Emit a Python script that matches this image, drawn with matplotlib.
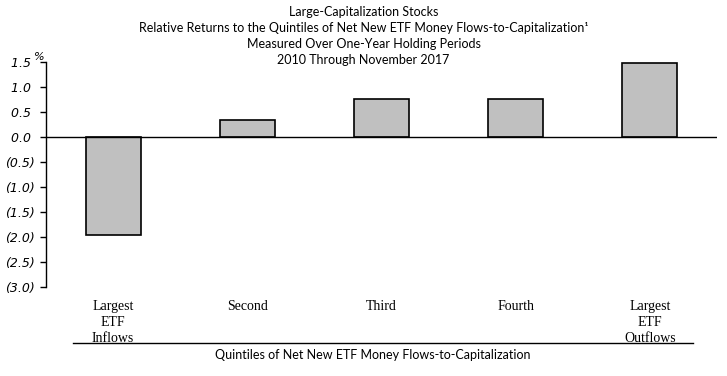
import matplotlib
matplotlib.use("Agg")
import matplotlib.pyplot as plt
from matplotlib.lines import Line2D

# quintile labels and relative returns (%)
categories = ["Largest\nETF\nInflows", "Second", "Third", "Fourth", "Largest\nETF\nOutflows"]
returns = [-1.95, 0.34, 0.76, 0.76, 1.48]

y_ticks = [1.5, 1.0, 0.5, 0.0, -0.5, -1.0, -1.5, -2.0, -2.5, -3.0]

title_lines = [
    "Large-Capitalization Stocks",
    "Relative Returns to the Quintiles of Net New ETF Money Flows-to-Capitalization\u00b9",
    "Measured Over One-Year Holding Periods",
    "2010 Through November 2017",
]
x_title = "Quintiles of Net New ETF Money Flows-to-Capitalization"


def fmt(v):
    # accounting style: negatives in parentheses
    if v < 0:
        return f"({abs(v):.1f})"
    return f"{v:.1f} "


fig = plt.figure(figsize=(7.27, 3.76), dpi=100)
ax = fig.add_axes([0.0633, 0.2367, 0.9229, 0.5984])

x = range(len(categories))
ax.bar(x, returns, width=0.41, color="#c0c0c0", edgecolor="black", linewidth=1.2, zorder=2)
ax.axhline(0, color="black", linewidth=1.0, zorder=3)

ax.set_xlim(-0.5, 4.5)
ax.set_ylim(-3.0, 1.5)

ax.set_yticks(y_ticks)
ax.set_yticklabels([fmt(v) for v in y_ticks], fontfamily="DejaVu Sans",
                   fontstyle="italic", fontsize=9)
ax.tick_params(axis="y", length=4, width=1, pad=4, direction="out")

ax.set_xticks(list(x))
ax.set_xticklabels(categories, fontfamily="Liberation Serif", fontsize=10,
                   linespacing=1.3, va="top")
ax.tick_params(axis="x", length=0, pad=9)

for side in ["top", "right", "bottom"]:
    ax.spines[side].set_visible(False)
ax.spines["left"].set_linewidth(1.0)

# little "%" next to the top tick label
fig.text(34 / 727, 1 - 57 / 376, "%", fontfamily="DejaVu Sans", fontstyle="italic",
         fontsize=8, ha="left", va="center")

# title block, centered on the figure
for i, line in enumerate(title_lines):
    fig.text(0.5, 1 - (12 + 16 * i) / 376, line, fontfamily="Lato",
             fontsize=9, ha="center", va="center")

# underline above axis title
fig.add_artist(Line2D([73 / 727, 693 / 727], [1 - 343 / 376, 1 - 343 / 376],
                      color="black", linewidth=1.0))
fig.text(373 / 727, 1 - 355 / 376, x_title, fontfamily="Lato", fontsize=9,
         ha="center", va="center")

fig.savefig("out.png", dpi=100)
